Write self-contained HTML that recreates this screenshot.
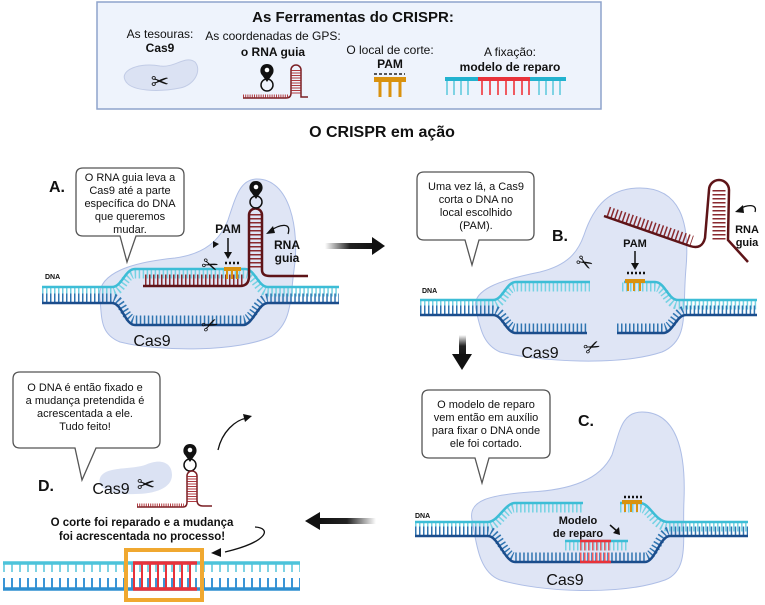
<!DOCTYPE html>
<html><head><meta charset="utf-8"><style>
html,body{margin:0;padding:0;background:#fff;width:765px;height:605px;overflow:hidden}
svg{display:block}
text{font-family:"Liberation Sans",Arial,sans-serif;fill:#111}
.b{font-weight:bold}
</style></head><body>
<svg width="765" height="605" viewBox="0 0 765 605" xmlns="http://www.w3.org/2000/svg">
<defs>
<linearGradient id="gr" x1="0" x2="1"><stop offset="0" stop-color="#fff"/><stop offset="0.5" stop-color="#222"/><stop offset="1" stop-color="#111"/></linearGradient>
<linearGradient id="gl" x1="1" x2="0"><stop offset="0" stop-color="#fff"/><stop offset="0.5" stop-color="#222"/><stop offset="1" stop-color="#111"/></linearGradient>
<linearGradient id="gd" x1="0" y1="0" x2="0" y2="1"><stop offset="0" stop-color="#fff"/><stop offset="0.5" stop-color="#222"/><stop offset="1" stop-color="#111"/></linearGradient>
<g id="pin"><path d="M0,0 C-7,0 -8,8 -5,11 L0,18 L5,11 C8,8 7,0 0,0 Z" fill="#111"/><circle cx="0" cy="6" r="2.3" fill="#fff"/><circle cx="0" cy="21" r="6" fill="none" stroke="#111" stroke-width="1.5"/></g>
</defs>

<!-- Top tools box -->
<rect x="97" y="2" width="504" height="107" fill="#eef3fc" stroke="#8ea3cc" stroke-width="1.5"/>
<text x="353" y="22" text-anchor="middle" class="b" font-size="15">As Ferramentas do CRISPR:</text>
<text x="160" y="38" text-anchor="middle" font-size="12">As tesouras:</text>
<text x="160" y="52" text-anchor="middle" class="b" font-size="12">Cas9</text>
<path d="M125,80 C120,70 140,62 160,66 C175,68 185,55 195,62 C202,70 195,85 180,88 C160,92 130,92 125,80 Z" fill="#dbe2f3" stroke="#c2cce6"/>
<text x="160" y="89" text-anchor="middle" font-size="22">✂</text>
<text x="273" y="40" text-anchor="middle" font-size="12">As coordenadas de GPS:</text>
<text x="273" y="56" text-anchor="middle" class="b" font-size="12">o RNA guia</text>
<use href="#pin" x="267" y="64"/>
<path d="M243,98 H286 Q291,98 291,93 V70 A5,5 0 0 1 301,70 V97 H308" fill="none" stroke="#7a1f24" stroke-width="1.5"/>
<path d="M243,96 H288" stroke="#b03a40" stroke-width="3" stroke-dasharray="1 1.2"/>
<path d="M296,70 V95" stroke="#b03a40" stroke-width="9" stroke-dasharray="1 1.5"/>
<text x="390" y="54" text-anchor="middle" font-size="12">O local de corte:</text>
<text x="390" y="68" text-anchor="middle" class="b" font-size="12">PAM</text>
<path d="M374,74 H405" stroke="#222" stroke-width="1.5" stroke-dasharray="3 2"/>
<rect x="374" y="77" width="32" height="5" fill="#d9920f"/>
<path d="M380,82 V97 M390,82 V97 M400,82 V97" stroke="#d9920f" stroke-width="3"/>
<text x="510" y="56" text-anchor="middle" font-size="12">A fixação:</text>
<text x="510" y="71" text-anchor="middle" class="b" font-size="12">modelo de reparo</text>
<rect x="445" y="77" width="33" height="4" fill="#22b2cf"/>
<rect x="478" y="77" width="52" height="4" fill="#e8323a"/>
<rect x="530" y="77" width="36" height="4" fill="#22b2cf"/>
<path d="M447,81 V95 M454,81 V95 M461,81 V95 M468,81 V95 M553,81 V95 M560,81 V95 M539,81 V95 M546,81 V95" stroke="#7fd3e4" stroke-width="2"/>
<path d="M482,81 V95 M490,81 V95 M498,81 V95 M506,81 V95 M514,81 V95 M522,81 V95 M529,81 V95" stroke="#f05a60" stroke-width="2"/>

<text x="382" y="137" text-anchor="middle" class="b" font-size="16">O CRISPR em ação</text>

<!-- Panel A -->
<path d="M100,300 C95,272 135,262 175,258 C205,254 220,240 228,220 C236,196 240,180 256,179 C290,178 300,230 294,270 C290,300 292,322 272,336 C240,352 160,352 120,342 C100,334 102,318 100,300 Z" fill="#dfe5f5" stroke="#aebee6"/>
<g fill="none">
<path d="M42,292 H112 C122,292 125,274 135,274 H245 C255,274 258,292 268,292 H339" stroke="#74d2e3" stroke-width="9" stroke-dasharray="1.5 2.5"/>
<path d="M42,298 H112 C122,298 125,320 135,320 H243 C253,320 258,298 268,298 H339" stroke="#2f74b0" stroke-width="9" stroke-dasharray="1.5 2.5"/>
<path d="M42,287 H112 C122,287 125,269 135,269 H245 C255,269 258,287 268,287 H339" stroke="#3dbdd6" stroke-width="2.5"/>
<path d="M42,303 H112 C122,303 125,325 135,325 H243 C253,325 258,303 268,303 H339" stroke="#1b4d8c" stroke-width="2.5"/>
<path d="M145,280 H243" stroke="#8a2a2f" stroke-width="11" stroke-dasharray="1.5 2.5"/>
<path d="M255,214 V270" stroke="#8a2a2f" stroke-width="12" stroke-dasharray="1.5 2.5"/>
<path d="M143,286 H240 Q249,286 249,276 V215 A6,6 0 0 1 262,215 V270 Q262,276 270,276 H308" stroke="#5e1418" stroke-width="2.5"/>
</g>
<rect x="224" y="267" width="17" height="4" fill="#d9920f"/>
<path d="M227,271 V279 M232,271 V279 M237,271 V279" stroke="#d9920f" stroke-width="2"/>
<path d="M225,263 H241" stroke="#111" stroke-width="2.5" stroke-dasharray="2 2"/>
<use href="#pin" x="256" y="181"/>
<text x="228" y="233" text-anchor="middle" class="b" font-size="12">PAM</text>
<path d="M228,238 V255" stroke="#111" stroke-width="1.5"/><path d="M224,252 L228,259 L232,252 Z" fill="#111"/>
<path d="M213,241 L219,244 L213,248 Z" fill="#111"/>
<text x="287" y="249" text-anchor="middle" class="b" font-size="12">RNA</text>
<text x="287" y="262" text-anchor="middle" class="b" font-size="12">guia</text>
<path d="M288,234 C292,222 280,224 270,231" fill="none" stroke="#111" stroke-width="1.3"/><path d="M266,234 L273,226 L275,233 Z" fill="#111"/>
<text x="210" y="272" text-anchor="middle" font-size="20" transform="rotate(20 210 265)">✂</text>
<text x="210" y="332" text-anchor="middle" font-size="20" transform="rotate(-25 210 325)">✂</text>
<text x="152" y="346" text-anchor="middle" font-size="16">Cas9</text>
<path d="M83,168 H177 Q184,168 184,175 V229 Q184,236 177,236 H136 L127,262 L120,236 H83 Q76,236 76,229 V175 Q76,168 83,168 Z" fill="#fff" stroke="#555" stroke-width="1.3"/>
<g font-size="11" text-anchor="middle"><text x="130" y="181">O RNA guia leva a</text><text x="130" y="194">Cas9 até a parte</text><text x="130" y="207">específica do DNA</text><text x="130" y="220">que queremos</text><text x="130" y="233">mudar.</text></g>
<text x="57" y="192" text-anchor="middle" class="b" font-size="16">A.</text>
<text x="45" y="279" class="b" font-size="7">DNA</text>

<!-- arrow A->B -->
<rect x="325" y="243" width="50" height="6" fill="url(#gr)"/><path d="M372,237 L385,246 L372,255 Z" fill="#111"/>

<!-- Panel B -->
<path d="M476,310 C470,290 500,280 540,272 C568,265 578,252 584,235 C594,205 610,188 640,188 C680,188 690,222 686,268 C682,312 690,340 662,352 C620,366 540,362 500,352 C482,344 480,326 476,310 Z" fill="#dfe5f5" stroke="#aebee6"/>
<g fill="none">
<path d="M420,305 H493 C503,305 506,287 516,287 H590 M622,287 H655 C665,287 668,305 678,305 H757" stroke="#74d2e3" stroke-width="9" stroke-dasharray="1.5 2.5"/>
<path d="M420,310 H493 C503,310 506,328 516,328 H587 M617,328 H663 C673,328 676,310 686,310 H757" stroke="#2f74b0" stroke-width="9" stroke-dasharray="1.5 2.5"/>
<path d="M420,300 H493 C503,300 506,282 516,282 H590 M624,282 H655 C665,282 668,300 678,300 H757" stroke="#3dbdd6" stroke-width="2.5"/>
<path d="M420,315 H493 C503,315 506,333 516,333 H587 M617,333 H663 C673,333 676,315 686,315 H757" stroke="#1b4d8c" stroke-width="2.5"/>
<path d="M606,217 L690,246" stroke="#8a2a2f" stroke-width="11" stroke-dasharray="1.5 2.5" transform="translate(2,-5)"/>
<path d="M719,190 V240" stroke="#8a2a2f" stroke-width="13" stroke-dasharray="1.5 2.5"/>
<path d="M604,216 L690,246 Q702,250 705,238 L709,190 A10,10 0 0 1 729,190 L728,240 L748,262" stroke="#5e1418" stroke-width="2.5"/>
</g>
<rect x="625" y="279" width="20" height="4" fill="#d9920f"/>
<path d="M628,283 V291 M634,283 V291 M640,283 V291" stroke="#d9920f" stroke-width="2"/>
<path d="M627,273 H645" stroke="#111" stroke-width="2.5" stroke-dasharray="2 2"/>
<text x="635" y="247" text-anchor="middle" class="b" font-size="11">PAM</text>
<path d="M635,251 V266" stroke="#111" stroke-width="1.5"/><path d="M631,263 L635,270 L639,263 Z" fill="#111"/>
<text x="747" y="233" text-anchor="middle" class="b" font-size="11">RNA</text>
<text x="747" y="246" text-anchor="middle" class="b" font-size="11">guia</text>
<path d="M755,212 C758,203 745,205 740,209" fill="none" stroke="#111" stroke-width="1.3"/><path d="M735,212 L743,205 L744,213 Z" fill="#111"/>
<text x="585" y="270" text-anchor="middle" font-size="20" transform="rotate(30 585 262)">✂</text>
<text x="592" y="354" text-anchor="middle" font-size="20" transform="rotate(-25 592 347)">✂</text>
<text x="540" y="358" text-anchor="middle" font-size="16">Cas9</text>
<path d="M424,172 H527 Q534,172 534,179 V233 Q534,240 527,240 H479 L472,265 L465,240 H424 Q417,240 417,233 V179 Q417,172 424,172 Z" fill="#fff" stroke="#555" stroke-width="1.3"/>
<g font-size="11" text-anchor="middle"><text x="476" y="190">Uma vez lá, a Cas9</text><text x="476" y="203">corta o DNA no</text><text x="476" y="216">local escolhido</text><text x="476" y="229">(PAM).</text></g>
<text x="560" y="241" text-anchor="middle" class="b" font-size="16">B.</text>
<text x="422" y="293" class="b" font-size="7">DNA</text>

<!-- arrow B->C -->
<rect x="459" y="335" width="7" height="22" fill="url(#gd)"/><path d="M452,354 L462,370 L472,354 Z" fill="#111"/>

<!-- Panel C -->
<path d="M472,520 C468,500 490,495 530,492 C570,490 600,480 612,455 C620,430 622,412 642,412 C676,412 686,450 684,500 C682,540 690,570 665,580 C620,596 540,592 500,580 C478,572 476,540 472,520 Z" fill="#dfe5f5" stroke="#aebee6"/>
<g fill="none">
<path d="M415,527 H488 C498,527 505,508 515,508 H583 M620,508 H640 C650,508 655,527 668,527 H748" stroke="#74d2e3" stroke-width="9" stroke-dasharray="1.5 2.5"/>
<path d="M415,531 H488 C498,531 505,557 515,557 H645 C655,557 660,531 670,531 H748" stroke="#2f74b0" stroke-width="9" stroke-dasharray="1.5 2.5"/>
<path d="M415,522 H488 C498,522 505,503 515,503 H583 M620,503 H640 C650,503 655,522 668,522 H748" stroke="#3dbdd6" stroke-width="2.5"/>
<path d="M415,536 H488 C498,536 505,562 515,562 H645 C655,562 660,536 670,536 H748" stroke="#1b4d8c" stroke-width="2.5"/>
<path d="M565,546 H628" stroke="#74d2e3" stroke-width="9" stroke-dasharray="1.5 2.5"/>
<path d="M580,546 H611" stroke="#f05a60" stroke-width="9" stroke-dasharray="1.5 2.5"/>
<path d="M580,557 H611" stroke="#f05a60" stroke-width="9" stroke-dasharray="1.5 2.5"/>
<path d="M565,541 H628" stroke="#3dbdd6" stroke-width="2.5"/>
<path d="M580,541 H611 M580,562 H611" stroke="#e8323a" stroke-width="2.5"/>
</g>
<rect x="622" y="500" width="20" height="4" fill="#d9920f"/>
<path d="M625,504 V512 M631,504 V512 M637,504 V512" stroke="#d9920f" stroke-width="2"/>
<path d="M624,497 H642" stroke="#111" stroke-width="2.5" stroke-dasharray="2 2"/>
<text x="578" y="524" text-anchor="middle" class="b" font-size="11">Modelo</text>
<text x="578" y="537" text-anchor="middle" class="b" font-size="11">de reparo</text>
<path d="M610,525 L618,532" stroke="#111" stroke-width="1.5"/><path d="M620,535 L613,533 L619,527 Z" fill="#111"/>
<text x="565" y="585" text-anchor="middle" font-size="16">Cas9</text>
<path d="M429,390 H543 Q550,390 550,397 V451 Q550,458 543,458 H489 L482,483 L475,458 H429 Q422,458 422,451 V397 Q422,390 429,390 Z" fill="#fff" stroke="#555" stroke-width="1.3"/>
<g font-size="11" text-anchor="middle"><text x="486" y="408">O modelo de reparo</text><text x="486" y="421">vem então em auxílio</text><text x="486" y="434">para fixar o DNA onde</text><text x="486" y="447">ele foi cortado.</text></g>
<text x="586" y="426" text-anchor="middle" class="b" font-size="16">C.</text>
<text x="415" y="518" class="b" font-size="7">DNA</text>

<!-- arrow C->D -->
<rect x="318" y="518" width="58" height="6" fill="url(#gl)"/><path d="M320,512 L305,521 L320,530 Z" fill="#111"/>

<!-- Panel D -->
<path d="M20,372 H153 Q160,372 160,379 V441 Q160,448 153,448 H96 L82,480 L75,448 H20 Q13,448 13,441 V379 Q13,372 20,372 Z" fill="#fff" stroke="#555" stroke-width="1.3"/>
<g font-size="11" text-anchor="middle"><text x="85" y="391">O DNA é então fixado e</text><text x="85" y="404">a mudança pretendida é</text><text x="85" y="417">acrescentada a ele.</text><text x="85" y="430">Tudo feito!</text></g>
<text x="46" y="491" text-anchor="middle" class="b" font-size="16">D.</text>
<path d="M100,478 C105,466 130,470 145,465 C160,458 172,462 172,475 C172,488 155,494 135,494 C115,495 96,490 100,478 Z" fill="#dbe2f3"/>
<text x="111" y="494" text-anchor="middle" font-size="16">Cas9</text>
<text x="146" y="492" text-anchor="middle" font-size="22">✂</text>
<use href="#pin" x="190" y="444"/>
<path d="M137,507 H183 Q187,507 187,502 V476 A5,5 0 0 1 197,476 V500 Q197,506 203,506 H212" fill="none" stroke="#7a1f24" stroke-width="1.5"/>
<path d="M137,505 H184" stroke="#b03a40" stroke-width="3" stroke-dasharray="1 1.2"/>
<path d="M192,476 V503" stroke="#b03a40" stroke-width="9" stroke-dasharray="1 1.5"/>
<path d="M218,450 C222,432 235,420 247,418" fill="none" stroke="#111" stroke-width="1.3"/><path d="M252,416 L243,414 L245,422 Z" fill="#111"/>
<text x="142" y="526" text-anchor="middle" class="b" font-size="11.5">O corte foi reparado e a mudança</text>
<text x="142" y="540" text-anchor="middle" class="b" font-size="11.5">foi acrescentada no processo!</text>
<path d="M255,527 C272,528 268,542 225,552" fill="none" stroke="#111" stroke-width="1.3"/><path d="M211,553 L221,548 L221,557 Z" fill="#111"/>
<rect x="3" y="565" width="298" height="22" fill="#fff"/>
<path d="M3,568 H300" stroke="#7fd3e4" stroke-width="8" stroke-dasharray="2 6"/>
<path d="M3,583 H300" stroke="#3b95d6" stroke-width="10" stroke-dasharray="2 6"/>
<path d="M3,563 H300" stroke="#4cc3da" stroke-width="3.5"/>
<path d="M3,589 H300" stroke="#2e8fd0" stroke-width="3.5"/>
<path d="M133,576 H197" stroke="#e8323a" stroke-width="26" stroke-dasharray="2 6"/>
<path d="M133,563 H197 M133,589 H197" stroke="#e8323a" stroke-width="3.5"/>
<rect x="126" y="550" width="76" height="50" fill="none" stroke="#f0a830" stroke-width="4"/>
</svg>
</body></html>
